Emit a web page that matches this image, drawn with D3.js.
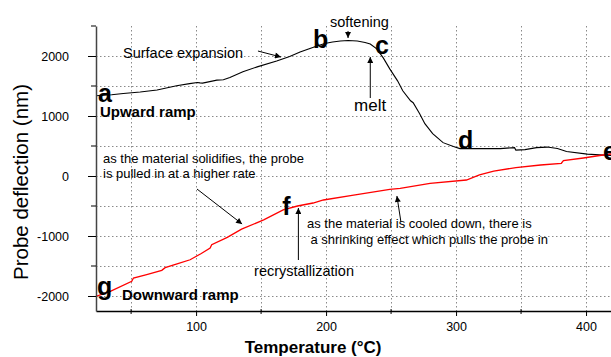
<!DOCTYPE html>
<html>
<head>
<meta charset="utf-8">
<script src="https://cdn.jsdelivr.net/npm/d3@7"></script>
<style>
    body { margin: 0; background: #fff; }
    svg { display: block; font-family: "Liberation Sans", Arial, sans-serif; }
</style>
</head>
<body>
<svg id="chart" width="611" height="357"></svg>
<script>

//
// ***********************************************************************************
//                      DATA
// ***********************************************************************************
//

// Upward ramp (heating), black curve
const upTemp = [23, 35, 44, 57, 70, 85, 95, 101, 103, 105, 116, 121, 126, 136, 147, 162, 172, 180,
    193, 199, 205, 211, 217, 224, 230, 234, 239, 244, 249, 255, 259, 265, 267, 272, 276, 282,
    290, 298, 303, 318, 334, 345, 346, 353, 362, 370, 378, 385, 401, 419.3];
const upDefl = [1337, 1355, 1375, 1400, 1432, 1503, 1540, 1558, 1552, 1548, 1598, 1603, 1641, 1736, 1819, 1918, 1990, 2065,
    2168, 2209, 2234, 2251, 2259, 2251, 2226, 2201, 2118, 1968, 1786, 1586, 1420, 1254, 1221, 1038, 872, 706,
    556, 490, 457, 457, 457, 473, 432, 440, 473, 482, 457, 407, 365, 342];

// Downward ramp (cooling), red curve
const downTemp = [23, 34, 50.5, 51.8, 62, 73.6, 76.2, 86, 95.4, 104, 110.8, 112, 124, 135, 152, 167, 178,
    190, 198, 220, 249, 257, 280, 308, 318, 329, 346, 365, 381, 382.6, 398, 413, 419.3];
const downDefl = [-2005, -1922, -1756, -1700, -1642, -1573, -1528, -1462, -1396, -1292, -1201, -1146, -1022, -886, -731, -565, -500,
    -450, -400, -322, -222, -205, -122, -67, 17, 83, 140, 183, 212, 255, 300, 350, 367];

// Axis ticks
const xTicks = [100, 200, 300, 400];
const xMinorTicks = [50, 150, 250, 350];
const yTicks = [-2000, -1000, 0, 1000, 2000];
const yMinorTicks = [-1500, -500, 500, 1500, 2500];
const xGrid = [50, 100, 150, 200, 250, 300, 350, 400];
const yGrid = [-2000, -1500, -1000, -500, 0, 500, 1000, 1500, 2000];

// Point letters on the curves [label, temp, deflection]
const pointLetters = [
    ["a", 24.5, 1233], ["b", 190, 2133], ["c", 237.6, 2033], ["d", 301.5, 450],
    ["e", 413, 267], ["f", 166.2, -650], ["g", 23.8, -1983]
];

// Text notes [text, temp, deflection, kind]
const notes = [
    ["Surface expansion", 43.8, 1967, "note"],
    ["softening", 203, 2483, "note"],
    ["melt", 221.5, 1083, "big"],
    ["Upward ramp", 26, 983, "ramp"],
    ["Downward ramp", 43, -2067, "ramp"],
    ["as the material solidifies, the probe", 28.4, 217, "small"],
    ["is pulled in at a higher rate", 28.4, -33, "small"],
    ["recrystallization", 144.6, -1667, "note"],
    ["as the material is cooled down, there is", 185.3, -867, "small"],
    ["a shrinking effect which pulls the probe in", 188, -1133, "small"]
];

// Arrows [fromTemp, fromDefl, toTemp, toDefl]
const arrows = [
    [147.6, 2083, 165.3, 1983],
    [216.9, 2417, 216.9, 2300],
    [234, 1300, 234, 1983],
    [100.7, -217, 135.4, -800],
    [178.7, -1400, 178.7, -533],
    [257.6, -767, 254.5, -333]
];

//
// ***********************************************************************************
//                      CHART
// ***********************************************************************************
//

const svg = d3.select("#chart");

const x = d3.scaleLinear().domain([23, 419.2]).range([96, 611]);
const y = d3.scaleLinear().domain([-2250, 2500]).range([311, 26]);

// Arrowhead marker
svg.append("defs").append("marker")
    .attr("id", "arrow")
    .attr("viewBox", "0 0 10 10")
    .attr("refX", 10).attr("refY", 5)
    .attr("markerWidth", 8).attr("markerHeight", 6)
    .attr("markerUnits", "userSpaceOnUse")
    .attr("orient", "auto")
    .append("path")
        .attr("d", "M0,0L10,5L0,10z")
        .attr("fill", "#000");

// Dotted grid
const grid = svg.append("g")
    .attr("stroke", "#8a8a8a")
    .attr("stroke-width", 1)
    .attr("stroke-dasharray", "1.5,2.5");
grid.selectAll("line.v")
    .data(xGrid)
    .join("line")
        .attr("x1", d => Math.round(x(d)) + 0.5).attr("x2", d => Math.round(x(d)) + 0.5)
        .attr("y1", y(2500)).attr("y2", y(-2250));
grid.selectAll("line.h")
    .data(yGrid)
    .join("line")
        .attr("x1", x(23)).attr("x2", 611)
        .attr("y1", d => Math.round(y(d)) + 0.5).attr("y2", d => Math.round(y(d)) + 0.5);

// Curves
const line = d3.line()
    .x(d => x(d[0]))
    .y(d => y(d[1]));

svg.append("path")
    .datum(upTemp.map((t, i) => [t, upDefl[i]]))
    .attr("d", line)
    .attr("fill", "none")
    .attr("stroke", "#000")
    .attr("stroke-width", 1.1);

svg.append("path")
    .datum(downTemp.map((t, i) => [t, downDefl[i]]))
    .attr("d", line)
    .attr("fill", "none")
    .attr("stroke", "#ff0000")
    .attr("stroke-width", 1.3);

// Axes
const xAxis = svg.append("g")
    .attr("transform", `translate(0,${y(-2250)})`)
    .call(d3.axisBottom(x).tickValues(xTicks).tickFormat(d => String(d))
        .tickSize(5).tickSizeOuter(0).tickPadding(6));
xAxis.select(".domain").attr("stroke", "#000").attr("stroke-width", 1.5);
xAxis.selectAll(".tick text").attr("font-size", 12.5).attr("fill", "#000").attr("font-family", null);
xAxis.selectAll("line.minor")
    .data(xMinorTicks)
    .join("line")
        .attr("x1", d => x(d)).attr("x2", d => x(d))
        .attr("y1", -2).attr("y2", 3)
        .attr("stroke", "#000");

const yAxis = svg.append("g")
    .attr("transform", `translate(${x(23)},0)`)
    .call(d3.axisLeft(y).tickValues(yTicks).tickFormat(d => String(d))
        .tickSize(8).tickSizeOuter(0).tickPadding(19));
yAxis.select(".domain").attr("stroke", "#444").attr("stroke-width", 1.5);
yAxis.selectAll(".tick text").attr("font-size", 12.5).attr("fill", "#000").attr("font-family", null);
yAxis.selectAll("line.minor")
    .data(yMinorTicks)
    .join("line")
        .attr("x1", -5).attr("x2", 0)
        .attr("y1", d => y(d)).attr("y2", d => y(d))
        .attr("stroke", "#000");

// Axis titles
svg.append("text")
    .attr("transform", `translate(28,${y(-100)}) rotate(-90)`)
    .attr("text-anchor", "middle")
    .attr("font-size", 20.5)
    .text("Probe deflection (nm)");

svg.append("text")
    .attr("x", x(190)).attr("y", 353)
    .attr("text-anchor", "middle")
    .attr("font-size", 17)
    .attr("font-weight", "bold")
    .text("Temperature (\u00B0C)");

// Annotations
svg.append("g")
    .selectAll("line")
    .data(arrows)
    .join("line")
        .attr("x1", d => x(d[0])).attr("y1", d => y(d[1]))
        .attr("x2", d => x(d[2])).attr("y2", d => y(d[3]))
        .attr("stroke", "#000")
        .attr("stroke-width", 1)
        .attr("marker-end", "url(#arrow)");

const noteStyle = {
    note: { size: 14.5, weight: "normal" },
    big: { size: 17, weight: "normal" },
    small: { size: 13, weight: "normal" },
    ramp: { size: 15, weight: "bold" }
};
svg.append("g")
    .selectAll("text")
    .data(notes)
    .join("text")
        .attr("x", d => x(d[1])).attr("y", d => y(d[2]))
        .attr("font-size", d => noteStyle[d[3]].size)
        .attr("font-weight", d => noteStyle[d[3]].weight)
        .text(d => d[0]);

svg.append("g")
    .selectAll("text")
    .data(pointLetters)
    .join("text")
        .attr("x", d => x(d[1])).attr("y", d => y(d[2]))
        .attr("font-size", 25)
        .attr("font-weight", "bold")
        .text(d => d[0]);

</script>
</body>
</html>
